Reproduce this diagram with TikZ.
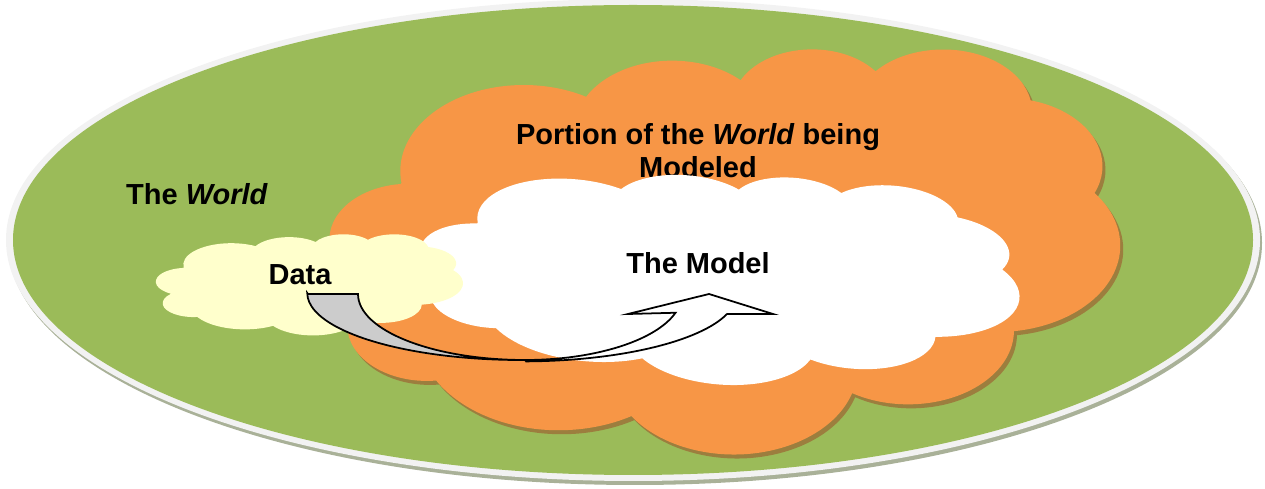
\documentclass[tikz,border=0pt]{standalone}
\usepackage{fontspec}
\setmainfont{Liberation Sans}
\usetikzlibrary{calc}
\definecolor{world}{HTML}{9BBB59}
\definecolor{rim}{HTML}{F2F2F2}
\definecolor{rimshade}{HTML}{A9B198}
\definecolor{portion}{HTML}{F79646}
\definecolor{portionshade}{HTML}{9C7E3E}
\definecolor{datafill}{HTML}{FFFFCC}
\definecolor{backside}{HTML}{CCCCCC}

\begin{document}
\begin{tikzpicture}[
    x=0.02cm, y=-0.02cm,
    % --- labels --------------------------------------------------------
    lbl/.style={font=\fontsize{16.5}{18.7}\selectfont\bfseries,
                align=center,inner sep=0pt,text=black},
    % --- curved block arrow --------------------------------------------
    band/.style={draw=black,line width=1pt,line join=miter},
    % --- cloud outline, unit box 43.2 x 43.2 around its centre ----------
    puffcloud/.pic={
      \path[pic actions] (-17.7,-7.23)
        arc[start angle=172.26,end angle=300.36,x radius=6.753,y radius=9.190]
        arc[start angle=-152.02,end angle=-45.44,x radius=5.333,y radius=7.267]
        arc[start angle=-153.48,end angle=-37.32,x radius=4.365,y radius=5.945]
        arc[start angle=-139.70,end angle=-10.21,x radius=4.857,y radius=6.595]
        arc[start angle=-74.77,end angle=23.21,x radius=5.333,y radius=7.273]
        arc[start angle=-37.54,end angle=81.86,x radius=6.775,y radius=9.220]
        arc[start angle=0.46,end angle=121.98,x radius=5.785,y radius=7.867]
        arc[start angle=16.84,end angle=146.25,x radius=6.752,y radius=9.215]
        arc[start angle=58.98,end angle=150.20,x radius=7.720,y radius=10.543]
        arc[start angle=83.31,end angle=223.12,x radius=4.360,y radius=5.918]
        arc[start angle=120.35,end angle=264.11,x radius=4.345,y radius=5.945]
        -- cycle;
    },
  ]
\useasboundingbox (0,0) rectangle (1265,489);

% =====================================================================
%  The world (flat disc with rim)
% =====================================================================
\coordinate (W) at (633,240);
\fill[rimshade] ($(W)+(2,3)$) ellipse[x radius=627,y radius=242];
\fill[rim] (W) ellipse[x radius=627,y radius=241];
\fill[world] (W) ellipse[x radius=620,y radius=235];

\node[lbl] (world) at (197,194) {The \textit{World}};

% =====================================================================
%  Portion of the world being modeled
% =====================================================================
\coordinate (P) at (725,250.5);
\coordinate (Pshade) at ($(P)+(3,4)$);
\pic[fill=portionshade,x=0.3657cm,y=-0.1875cm] at (Pshade) {puffcloud};
\pic[fill=portion,x=0.3657cm,y=-0.1875cm] at (P) {puffcloud};

\node[lbl] (portion) at (698,151) {Portion of the \textit{World} being\\Modeled};

% ---- the model ------------------------------------------------------
\coordinate (M) at (720,277.5);
\pic[fill=white,x=0.2778cm,y=-0.0981cm,rotate=-4.5] at (M) {puffcloud};

% ---- the data -------------------------------------------------------
\coordinate (D) at (309.5,284.5);
\pic[fill=datafill,x=0.1421cm,y=-0.0468cm] at (D) {puffcloud};

\node[lbl] (data) at (300,274.5) {Data};
\node[lbl] (model) at (698,263.5) {The Model};

% =====================================================================
%  Curved arrow  data -> model
% =====================================================================
\coordinate (tailL) at (308,294);
\coordinate (tailR) at (358,294);
\coordinate (bot) at (525,360);
\coordinate (headL) at (628,314);
\coordinate (tip) at (709,294);
\coordinate (headR) at (773,314);
\coordinate (baseR) at (727,314);

% back of the band
\filldraw[band,fill=backside] (tailL) -- (tailR)
  arc[start angle=180,end angle=90,x radius=167,y radius=66]
  arc[start angle=89,end angle=180,x radius=214,y radius=67] -- cycle;
% front of the band with head
\filldraw[band,fill=white] (bot)
  arc[start angle=90,end angle=16.5,x radius=157,y radius=66]
  -- (headL) -- (tip) -- (headR) -- (baseR)
  arc[start angle=17,end angle=89,x radius=214,y radius=67] -- cycle;

\end{tikzpicture}
\end{document}
